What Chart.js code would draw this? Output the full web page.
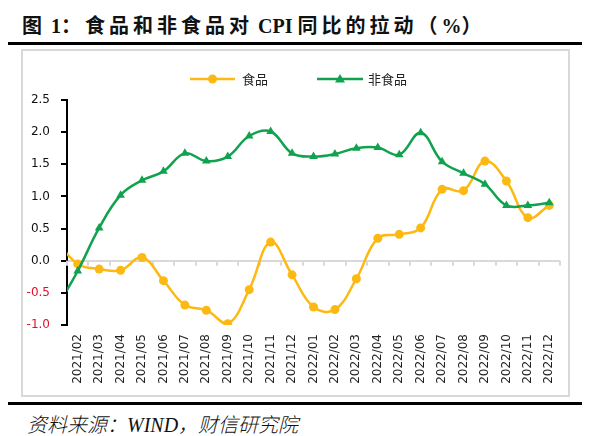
<!DOCTYPE html>
<html>
<head>
<meta charset="utf-8">
<script src="https://cdn.jsdelivr.net/npm/chart.js@4"></script>
<style>
  html, body { margin:0; padding:0; background:#fff; }
  body { width:590px; height:436px; position:relative; overflow:hidden; }
  .abs { position:absolute; }
  #title { left:22px; top:11px; font-weight:bold; font-size:20px; color:#111; white-space:nowrap; line-height:28px;
           font-family:"Liberation Serif","Noto Sans CJK SC",serif; }
  #title .cj { font-family:"Noto Sans CJK SC",sans-serif; letter-spacing:4px; }
  #footer { left:27px; top:410px; font-style:italic; font-size:20px; color:#111; white-space:nowrap; line-height:28px;
            font-family:"Liberation Serif","Noto Sans CJK SC",serif; }
  #footer .cj { font-family:"Noto Sans CJK SC",sans-serif; font-weight:300; }
  canvas { position:absolute; left:0; top:0; }
</style>
</head>
<body>
<div id="title" class="abs"><span class="cj">图</span> 1<span class="cj">：食品和非食品对</span> CPI <span class="cj">同比的拉动（</span>%<span class="cj">）</span></div>
<div class="abs" style="left:8px;top:42px;width:574px;height:3px;background:#000"></div>
<div class="abs" style="left:21px;top:49px;width:545px;height:344px;border:2px solid #d9d9d9"></div>
<div class="abs" style="left:8px;top:402px;width:574px;height:3px;background:#000"></div>
<div id="footer" class="abs"><span class="cj">资料来源：</span>WIND<span class="cj">，财信研究院</span></div>
<canvas id="c" width="590" height="436"></canvas>
<script>
// ---- data ----
const categories = ['2021/01','2021/02','2021/03','2021/04','2021/05','2021/06','2021/07','2021/08','2021/09','2021/10','2021/11','2021/12',
                    '2022/01','2022/02','2022/03','2022/04','2022/05','2022/06','2022/07','2022/08','2022/09','2022/10','2022/11','2022/12'];
const foodValues    = [0.31, -0.05, -0.13, -0.15, 0.05, -0.31, -0.69, -0.77, -0.98, -0.45, 0.29, -0.22,
                       -0.72, -0.76, -0.28, 0.35, 0.41, 0.51, 1.11, 1.09, 1.55, 1.24, 0.67, 0.86];
const nonFoodValues = [-0.74, -0.16, 0.51, 1.02, 1.25, 1.39, 1.67, 1.55, 1.62, 1.94, 2.01, 1.67,
                       1.62, 1.66, 1.75, 1.76, 1.65, 1.99, 1.54, 1.36, 1.19, 0.86, 0.86, 0.90];
const yTicks = [-1.0, -0.5, 0.0, 0.5, 1.0, 1.5, 2.0, 2.5];
const seriesNames = ['食品', '非食品'];

const FOOD_COLOR = '#FDB913';
const NONFOOD_COLOR = '#10A24E';

const zeroTicksPlugin = {
  id: 'zeroTicks',
  beforeDatasetsDraw(chart) {
    const x = chart.scales.x, y = chart.scales.y, ctx = chart.ctx;
    const y0 = y.getPixelForValue(0);
    const step = x.getPixelForValue(2) - x.getPixelForValue(1);
    ctx.save();
    ctx.strokeStyle = '#d9d9d9';
    ctx.lineWidth = 2;
    for (let i = x.min; i <= x.max + 1; i++) {
      const px = Math.round(x.getPixelForValue(i) - step / 2);
      ctx.beginPath();
      ctx.moveTo(px, y0);
      ctx.lineTo(px, y0 + 5);
      ctx.stroke();
    }
    ctx.restore();
  }
};

const legendPlugin = {
  id: 'customLegend',
  afterDraw(chart) {
    const ctx = chart.ctx;
    const items = [
      {x1:190, x2:235, tx:242, color:FOOD_COLOR, style:'circle', name:seriesNames[0]},
      {x1:317, x2:363, tx:368, color:NONFOOD_COLOR, style:'triangle', name:seriesNames[1]}
    ];
    const yc = 79;
    ctx.save();
    items.forEach(it => {
      ctx.strokeStyle = it.color; ctx.lineWidth = 2.5;
      ctx.beginPath(); ctx.moveTo(it.x1, yc); ctx.lineTo(it.x2, yc); ctx.stroke();
      ctx.fillStyle = it.color;
      const mx = (it.x1 + it.x2) / 2;
      ctx.beginPath();
      if (it.style === 'circle') { ctx.arc(mx, yc, 4.5, 0, Math.PI * 2); }
      else { ctx.moveTo(mx, yc - 5); ctx.lineTo(mx + 5, yc + 3.5); ctx.lineTo(mx - 5, yc + 3.5); ctx.closePath(); }
      ctx.fill();
      ctx.fillStyle = '#222';
      ctx.font = '13px "Noto Sans CJK SC"';
      ctx.textBaseline = 'middle';
      ctx.textAlign = 'left';
      ctx.fillText(it.name, it.tx, yc);
    });
    ctx.restore();
  }
};

new Chart(document.getElementById('c'), {
  type: 'line',
  data: {
    labels: categories,
    datasets: [
      { label: seriesNames[0], data: foodValues, borderColor: FOOD_COLOR, backgroundColor: FOOD_COLOR,
        borderWidth: 2.5, pointStyle: 'circle', pointRadius: 4.5, pointBorderWidth: 0, tension: 0.4, order: 1 },
      { label: seriesNames[1], data: nonFoodValues, borderColor: NONFOOD_COLOR, backgroundColor: NONFOOD_COLOR,
        borderWidth: 2.5, pointStyle: 'triangle', pointRadius: 5, pointBorderWidth: 0, tension: 0.4, order: 0 }
    ]
  },
  options: {
    responsive: false,
    animation: false,
    devicePixelRatio: 1,
    layout: { padding: { left: 0, top: 100, right: 30, bottom: 0 } },
    plugins: { legend: { display: false }, tooltip: { enabled: false }, title: { display: false } },
    scales: {
      x: {
        type: 'category',
        min: '2021/02',
        max: '2022/12',
        offset: true,
        grid: { display: false, drawTicks: false },
        border: { display: false },
        ticks: { autoSkip: false, minRotation: 90, maxRotation: 90, padding: 9, color: '#222',
                 font: { family: 'DejaVu Sans', size: 12 } },
        afterFit(scale) { scale.height = 111; }
      },
      y: {
        min: -1.0, max: 2.5,
        afterBuildTicks(scale) { scale.ticks = yTicks.map(v => ({ value: v })); },
        grid: {
          color: ctx => (ctx.tick && ctx.tick.value === 0) ? '#d9d9d9' : 'rgba(0,0,0,0)',
          lineWidth: 2, tickColor: '#000', tickWidth: 2, tickLength: 6, drawTicks: true
        },
        border: { display: true, color: '#000', width: 2 },
        ticks: {
          padding: 11,
          color: ctx => ctx.tick.value < 0 ? '#E0102A' : '#111',
          font: { family: 'DejaVu Sans', size: 12 },
          callback: v => Number(v).toFixed(1)
        },
        afterFit(scale) { scale.width = 67; }
      }
    }
  },
  plugins: [zeroTicksPlugin, legendPlugin]
});
</script>
</body>
</html>
